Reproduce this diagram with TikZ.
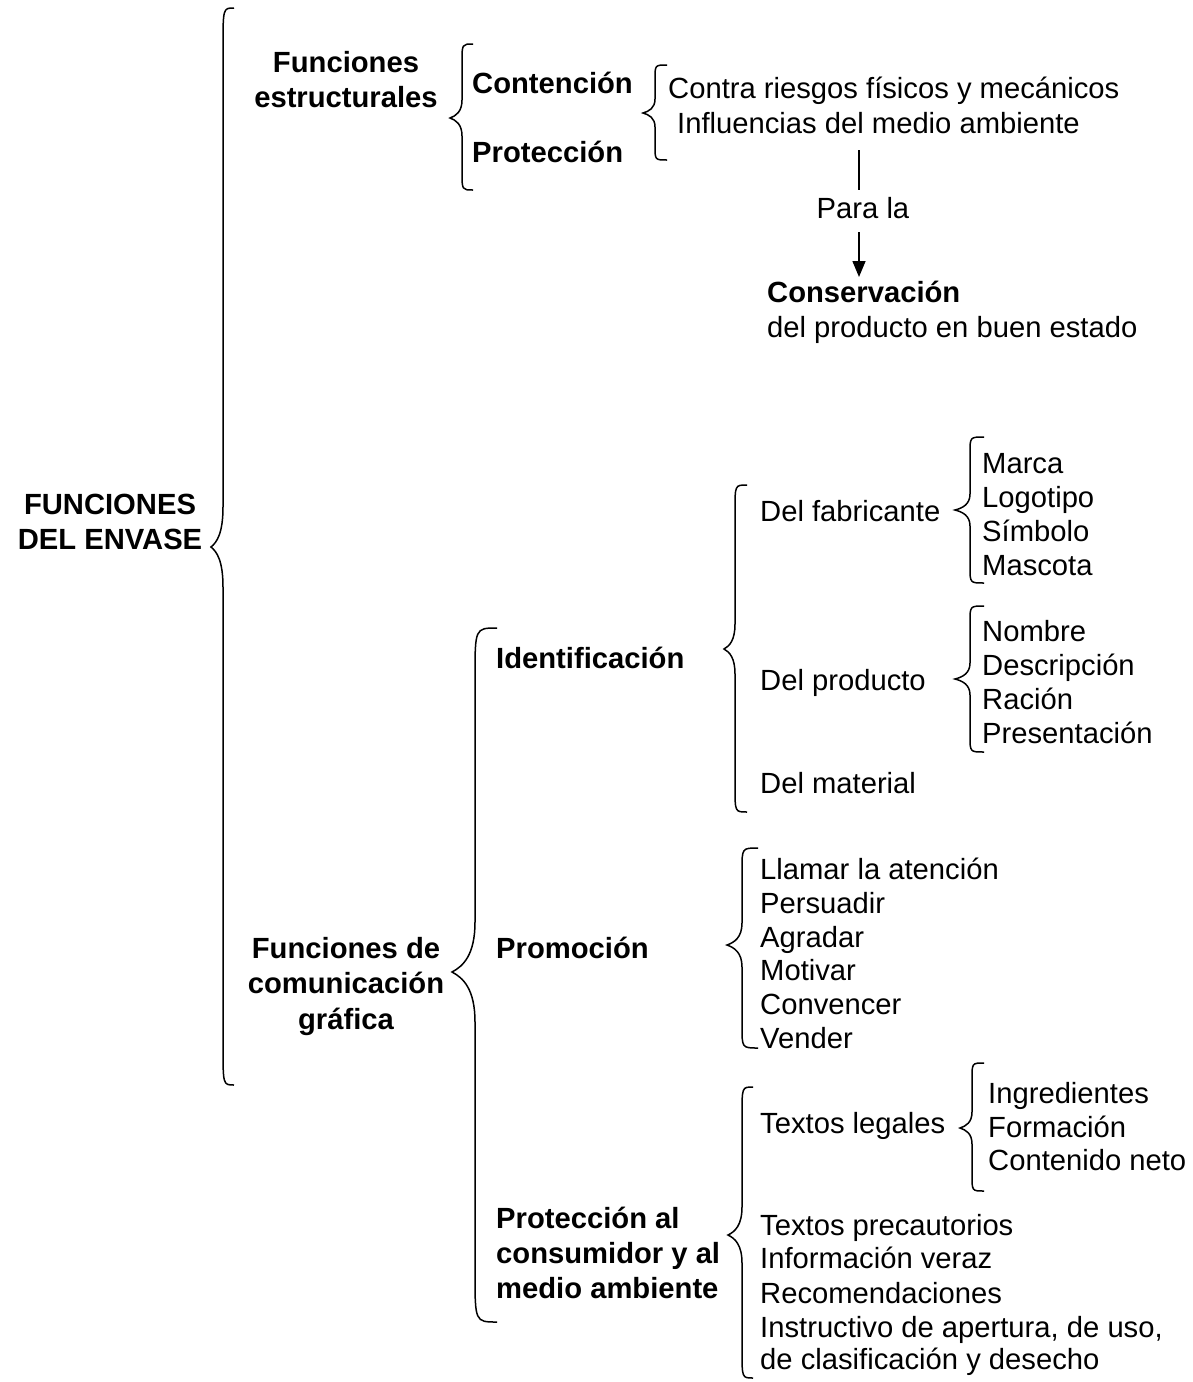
\documentclass[tikz,border=0pt]{standalone}
\usepackage{fontspec}
\setmainfont{Liberation Sans}
\usetikzlibrary{arrows.meta}

% curly brace: #1 spine x, #2 end x, #3 top y, #4 bottom y, #5 tip x, #6 tip y, #7 bend radius
\newcommand\curlybrace[7]{%
  \draw[bracestyle] (#2,#3) .. controls (#1,#3) .. (#1,#3+#7)
    -- (#1,#6-#7)
    .. controls (#1,#6-0.35*#7) and ({#5+0.5*(#1-#5)},#6-0.12*#7) .. (#5,#6)
    .. controls ({#5+0.5*(#1-#5)},#6+0.12*#7) and (#1,#6+0.35*#7) .. (#1,#6+#7)
    -- (#1,#4-#7) .. controls (#1,#4) .. (#2,#4);}

\tikzset{
  bracestyle/.style={line width=1.5pt, line join=miter},
  txt/.style={anchor=base west, inner sep=0pt, font=\fontsize{29.2}{34}\selectfont},
  btxt/.style={txt, font=\fontsize{29.2}{34}\selectfont\bfseries},
  ctxt/.style={btxt, anchor=base},
  link/.style={line width=1.5pt},
}

\begin{document}
\begin{tikzpicture}[x=1pt,y=-1pt]
\useasboundingbox (0,0) rectangle (1193,1382);

% root
\node[ctxt] (root1) at (110,514) {FUNCIONES};
\node[ctxt] (root2) at (110,549) {DEL ENVASE};
\curlybrace{223}{234}{8}{1085}{211}{547}{40}

% structural functions
\node[ctxt] (fe1) at (346,72) {Funciones};
\node[ctxt] (fe2) at (346,107) {estructurales};
\curlybrace{462}{473}{44}{190}{450}{118}{18}
\node[btxt] (cont) at (472,93) {Contención};
\node[btxt] (prot) at (472,162) {Protección};
\curlybrace{655}{667}{65}{160}{643}{113}{14}
\node[txt] (riesgos) at (668,98) {Contra riesgos físicos y mecánicos};
\node[txt] (influ) at (677,133) {Influencias del medio ambiente};

\coordinate (lnA) at (859,150);
\coordinate (lnB) at (859,190);
\coordinate (arA) at (859,232);
\coordinate (arB) at (859,277);
\draw[link] (lnA) -- (lnB);
\node[txt, anchor=base] (parala) at (863,218) {Para la};
\draw[link, -{Triangle[length=16pt,width=13pt]}] (arA) -- (arB);
\node[btxt] (conserv) at (767,302) {Conservación};
\node[txt] (buen) at (767,337) {del producto en buen estado};

% graphic communication functions
\node[ctxt] (fc1) at (346,958) {Funciones de};
\node[ctxt] (fc2) at (346,993) {comunicación};
\node[ctxt] (fc3) at (346,1029) {gráfica};
\curlybrace{475}{497}{628}{1322}{452}{972}{50}

% identification
\node[btxt] (ident) at (496,668) {Identificación};
\curlybrace{735}{747}{485}{812}{724}{649}{25}
\node[txt] (fabr) at (760,521) {Del fabricante};
\node[txt] (prod) at (760,690) {Del producto};
\node[txt] (mater) at (760,793) {Del material};

\curlybrace{970}{984}{437}{583}{955}{510}{16}
\node[txt] (marca) at (982,473) {Marca};
\node[txt] (logo) at (982,507) {Logotipo};
\node[txt] (simb) at (982,541) {Símbolo};
\node[txt] (masc) at (982,575) {Mascota};

\curlybrace{970}{984}{606}{752}{955}{679}{16}
\node[txt] (nomb) at (982,641) {Nombre};
\node[txt] (desc) at (982,675) {Descripción};
\node[txt] (racion) at (982,709) {Ración};
\node[txt] (pres) at (982,743) {Presentación};

% promotion
\node[btxt] (promo) at (496,958) {Promoción};
\curlybrace{742}{758}{848}{1048}{727}{945}{22}
\node[txt] (llamar) at (760,879) {Llamar la atención};
\node[txt] (pers) at (760,913) {Persuadir};
\node[txt] (agrad) at (760,947) {Agradar};
\node[txt] (motiv) at (760,980) {Motivar};
\node[txt] (conv) at (760,1014) {Convencer};
\node[txt] (vend) at (760,1048) {Vender};

% consumer and environment protection
\node[btxt] (pc1) at (496,1228) {Protección al};
\node[btxt] (pc2) at (496,1263) {consumidor y al};
\node[btxt] (pc3) at (496,1298) {medio ambiente};
\curlybrace{742}{753}{1087}{1378}{728}{1235}{28}
\node[txt] (legal) at (760,1133) {Textos legales};
\curlybrace{972}{984}{1063}{1191}{960}{1128}{16}
\node[txt] (ingr) at (988,1103) {Ingredientes};
\node[txt] (form) at (988,1137) {Formación};
\node[txt] (neto) at (988,1170) {Contenido neto};
\node[txt] (precau) at (760,1235) {Textos precautorios};
\node[txt] (veraz) at (760,1268) {Información veraz};
\node[txt] (recom) at (760,1303) {Recomendaciones};
\node[txt] (instr) at (760,1337) {Instructivo de apertura, de uso,};
\node[txt] (clasif) at (760,1369) {de clasificación y desecho};
\end{tikzpicture}
\end{document}
